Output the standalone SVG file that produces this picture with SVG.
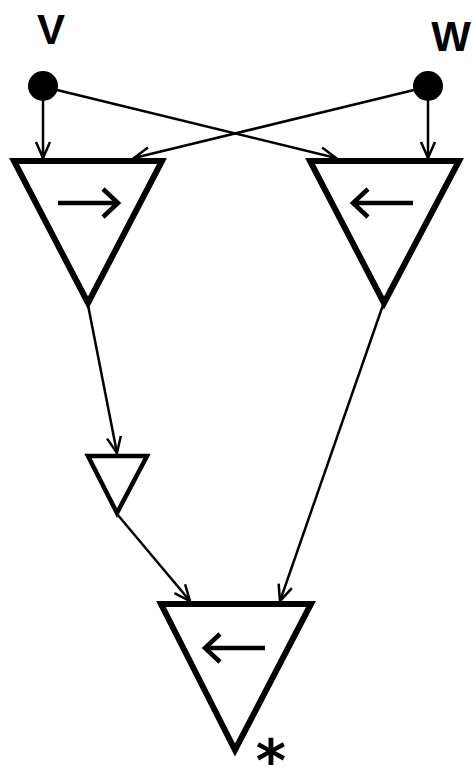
<svg xmlns="http://www.w3.org/2000/svg" width="473" height="767" viewBox="0 0 473 767">
<style>
.lbl{font-family:"Liberation Sans","DejaVu Sans",sans-serif;font-size:42px;font-weight:bold;fill:#000;text-anchor:middle}
.tri{fill:none;stroke:#000;stroke-width:6;stroke-linejoin:miter}
.tri-s{fill:none;stroke:#000;stroke-width:4.5}
.sym{fill:none;stroke:#000;stroke-width:4.5;stroke-linecap:butt}
.con{fill:none;stroke:#000;stroke-width:2.5}
</style>
<defs>
<marker id="ah" markerUnits="userSpaceOnUse" markerWidth="20" markerHeight="20" viewBox="0 0 20 20" refX="18" refY="10" orient="auto">
<path d="M2,3 L18,10 L2,17" fill="none" stroke="#000" stroke-width="2.5" stroke-linejoin="miter"/>
</marker>
</defs>
<g id="connectors">
<line class="con" x1="43" y1="100" x2="43" y2="158" marker-end="url(#ah)"/>
<line class="con" x1="428" y1="100" x2="428" y2="158" marker-end="url(#ah)"/>
<line class="con" x1="57" y1="90" x2="336" y2="158" marker-end="url(#ah)"/>
<line class="con" x1="414" y1="90" x2="134" y2="158" marker-end="url(#ah)"/>
<line class="con" x1="88" y1="305" x2="117" y2="453" marker-end="url(#ah)"/>
<line class="con" x1="117" y1="514" x2="190" y2="601" marker-end="url(#ah)"/>
<line class="con" x1="383" y1="305" x2="280" y2="601" marker-end="url(#ah)"/>
</g>
<g id="v">
<text class="lbl" x="51" y="44">V</text>
<circle cx="43" cy="86" r="15" fill="#000"/>
</g>
<g id="w">
<text class="lbl" x="451" y="51">W</text>
<circle cx="428" cy="86" r="15" fill="#000"/>
</g>
<g id="t1">
<polygon class="tri" points="14,161 162,161 88,303"/>
<path class="sym" d="M58,203 H118 M103,189 L118,203 L103,217"/>
</g>
<g id="t2">
<polygon class="tri" points="310,161 459,161 384,303"/>
<path class="sym" d="M413,203 H353 M368,189 L353,203 L368,217"/>
</g>
<g id="t3">
<polygon class="tri-s" points="88,456 147,456 117,513"/>
</g>
<g id="t4">
<polygon class="tri" points="161,604 311,604 235,750"/>
<path class="sym" d="M265,648 H205 M220,634 L205,648 L220,662"/>
<text x="271" y="781" style="font-family:'DejaVu Sans',sans-serif;font-size:58px;font-weight:bold;text-anchor:middle">*</text>
</g>
</svg>
